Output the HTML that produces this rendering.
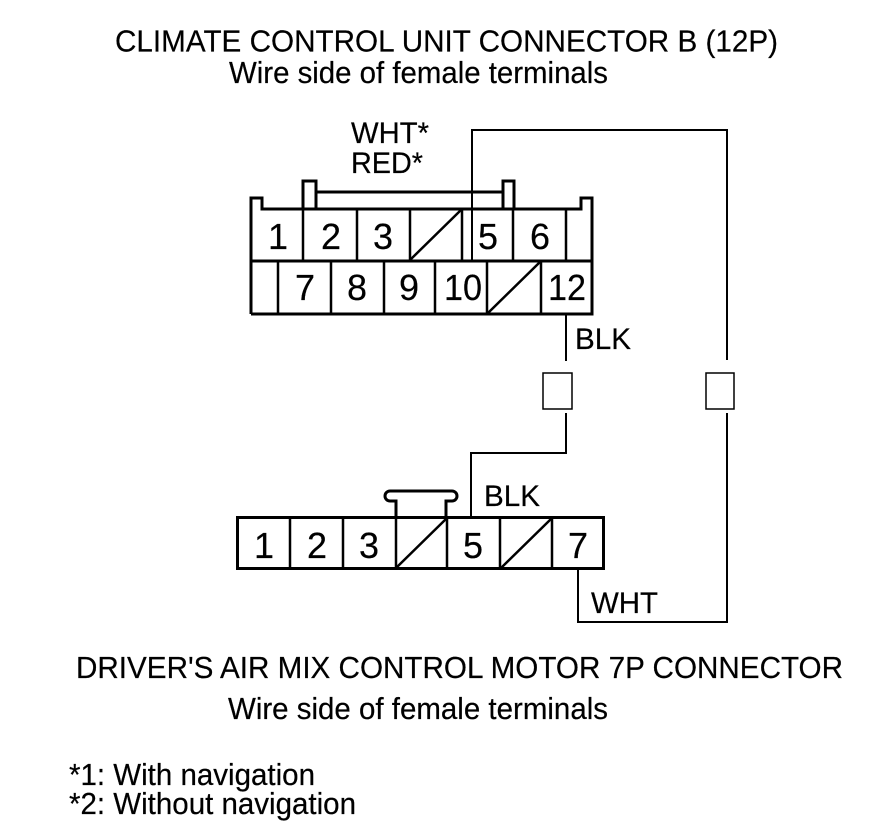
<!DOCTYPE html>
<html><head><meta charset="utf-8"><style>
html,body{margin:0;padding:0;background:#fff}
svg{display:block}
text{font-family:"Liberation Sans",sans-serif;fill:#000;stroke:#000;stroke-width:.2px}
.t{font-size:30.5px}
.n{font-size:36px}
.l{font-size:30px}
</style></head><body>
<svg width="880" height="838" viewBox="0 0 880 838" xmlns="http://www.w3.org/2000/svg">
<rect width="880" height="838" fill="#fff"/>
<g fill="none" stroke="#000" stroke-width="3">
<path d="M251 314V198H262V209H303M303 209V181H316V192H503M316 192V209M503 209V181H514V209H581V198H592V314H251M251 261H592M303 209H581" stroke-linejoin="miter"/>
<path d="M503 192V209" stroke-width="2"/>
<path d="M303 209V261M357 209V261M410 209V261M462 209V261M513 209V261M566 209V261M278 261V314M331 261V314M384 261V314M435 261V314M487 261V314M541 261V314" stroke-width="2.5"/>
<path d="M410 260L462 209M488 313L540 262" stroke-width="2.5"/>
<rect x="237.500" y="517.500" width="366" height="51"/>
<path d="M290 518V568M343 518V568M396 518V568M447 518V568M500 518V568M552 518V568" stroke-width="2.500"/>
<path d="M396 568L447 518M501 568L552 518" stroke-width="2.500"/>
<path d="M396 517V501H390A5 5 0 0 1 390 491H452A5 5 0 0 1 452 501H446V517"/>
<path d="M472 262V130H727V360" stroke-width="2"/>
<path d="M566 314V361" stroke-width="2"/>
<path d="M566 413V453H471V517" stroke-width="2"/>
<path d="M727 413V622H578V569" stroke-width="2"/>
<rect x="543" y="373" width="29" height="36" stroke-width="1.500"/>
<rect x="706" y="373" width="28" height="36" stroke-width="1.500"/>
</g>
<text class="t" x="115" y="51.500" textLength="663" lengthAdjust="spacingAndGlyphs">CLIMATE CONTROL UNIT CONNECTOR B (12P)</text>
<text class="t" x="229" y="83" textLength="379" lengthAdjust="spacingAndGlyphs">Wire side of female terminals</text>
<text class="l" x="351" y="143" textLength="78" lengthAdjust="spacingAndGlyphs">WHT*</text>
<text class="l" x="351" y="173" textLength="72" lengthAdjust="spacingAndGlyphs">RED*</text>
<text class="l" x="575" y="349" textLength="56" lengthAdjust="spacingAndGlyphs">BLK</text>
<text class="l" x="484" y="506" textLength="56" lengthAdjust="spacingAndGlyphs">BLK</text>
<text class="l" x="591" y="613" textLength="67" lengthAdjust="spacingAndGlyphs">WHT</text>
<text class="t" x="76" y="678" textLength="767" lengthAdjust="spacingAndGlyphs">DRIVER'S AIR MIX CONTROL MOTOR 7P CONNECTOR</text>
<text class="t" x="228" y="719" textLength="380" lengthAdjust="spacingAndGlyphs">Wire side of female terminals</text>
<text class="t" x="69" y="785" textLength="246" lengthAdjust="spacingAndGlyphs">*1: With navigation</text>
<text class="t" x="69" y="814" textLength="287" lengthAdjust="spacingAndGlyphs">*2: Without navigation</text>
<g text-anchor="middle">
<text class="n" x="278" y="249">1</text><text class="n" x="331" y="249">2</text><text class="n" x="383" y="249">3</text><text class="n" x="488" y="249">5</text><text class="n" x="540" y="249">6</text>
<text class="n" x="305" y="300">7</text><text class="n" x="357" y="300">8</text><text class="n" x="409" y="300">9</text><text class="n" x="463" y="300" textLength="38" lengthAdjust="spacingAndGlyphs">10</text><text class="n" x="567" y="300" textLength="38" lengthAdjust="spacingAndGlyphs">12</text>
<text class="n" x="264" y="558">1</text><text class="n" x="317" y="558">2</text><text class="n" x="369" y="558">3</text><text class="n" x="473" y="558">5</text><text class="n" x="578" y="558">7</text>
</g>
</svg>
</body></html>
